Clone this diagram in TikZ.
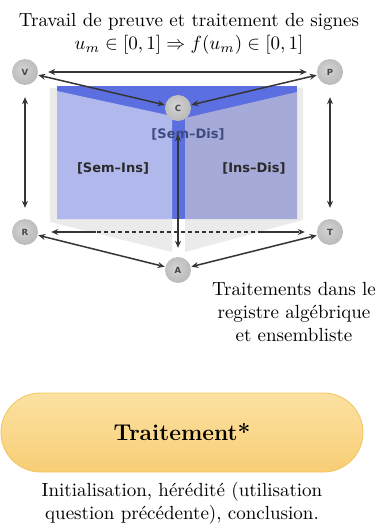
\documentclass[tikz,border=0pt]{standalone}
\usepackage{fontspec}
\newfontfamily\labfont{DejaVu Sans}
\usetikzlibrary{arrows.meta}
\definecolor{pagegray}{HTML}{EBEBEB}
\definecolor{darkblue}{HTML}{5B6FE0}
\definecolor{leftblue}{HTML}{B1B8EC}
\definecolor{rightblue}{HTML}{A5AAD9}
\definecolor{arrowgray}{HTML}{353535}
\definecolor{semdis}{HTML}{3E4A82}
\definecolor{labdark}{HTML}{2A2A2A}
\definecolor{yeltop}{HTML}{FCE1A2}
\definecolor{yelbot}{HTML}{F8CE76}
\definecolor{yelborder}{HTML}{F2C55C}
\pgfdeclareradialshading{myball}{\pgfpoint{-6bp}{6bp}}{color(0bp)=(black!17); color(25bp)=(black!26); color(50bp)=(black!38)}
\begin{document}
\begin{tikzpicture}[x=1pt,y=-1pt,
  ball/.style={circle, minimum size=26pt, inner sep=0pt, shading=myball,
    font=\labfont\bfseries\fontsize{8.5}{9}\selectfont, text=black!72},
  arr/.style={draw=arrowgray, line width=1.5pt,
    {Stealth[length=7pt,width=6pt]}-{Stealth[length=7pt,width=6pt]}},
  plain/.style={draw=arrowgray, line width=1.5pt},
  txt/.style={align=center, scale=1.9, inner sep=0pt},
  lab/.style={font=\labfont\bfseries\fontsize{13}{15}\selectfont, inner sep=0pt},
  pill/.style={rectangle, rounded corners=39.5pt, minimum width=362pt, minimum height=79pt,
    top color=yeltop, bottom color=yelbot, draw=yelborder, line width=0.8pt}
]
\useasboundingbox (0,0) rectangle (378,524);

% pages
\fill[pagegray] (50,88) -- (172,88) -- (172,252) -- (50,222) -- cycle;
\fill[pagegray] (185,88) -- (303,88) -- (303,220) -- (185,252) -- cycle;
\fill[darkblue] (57,86) rectangle (297,219);
\fill[leftblue] (57,91) -- (172,116) -- (172,219) -- (57,219) -- cycle;
\fill[rightblue] (185,118) -- (297,92) -- (297,219) -- (185,219) -- cycle;

% labels
\node[lab, text=semdis] (sd) at (188,134) {[Sem–Dis]};
\node[lab, text=labdark] (si) at (113,168) {[Sem–Ins]};
\node[lab, text=labdark] (id) at (254,168) {[Ins–Dis]};

% texts
\node[txt] (title) at (189,34) {Travail de preuve et traitement de signes\\ $u_m\in[0,1]\Rightarrow f(u_m)\in[0,1]$};
\node[txt] (right) at (294,312) {Traitements dans le\\ registre algébrique\\ et ensembliste};
\node[pill] (box) at (182,432.5) {};
\node[txt] (boxt) at (box.center) {\large\bfseries Traitement*};
\node[txt] (bottom) at (182,503) {Initialisation, hérédité (utilisation\\ question précédente), conclusion.};

% circles
\node[ball] (V) at (25,72) {V};
\node[ball] (P) at (330,72) {P};
\node[ball] (C) at (178,108) {C};
\node[ball] (R) at (25,232) {R};
\node[ball] (T) at (330,232) {T};
\node[ball] (A) at (178,270) {A};

% connectors
\draw[arr, shorten <=10pt, shorten >=10pt] (V) -- (P);
\draw[arr, shorten <=0.5pt, shorten >=0.5pt] (V) -- (C);
\draw[arr, shorten <=0.5pt, shorten >=0.5pt] (P) -- (C);
\draw[arr, shorten <=12pt, shorten >=11pt] (V) -- (R);
\draw[arr, shorten <=12pt, shorten >=11pt] (P) -- (T);
\draw[arr, shorten <=0.5pt, shorten >=0.5pt] (R) -- (A);
\draw[arr, shorten <=0.5pt, shorten >=0.5pt] (T) -- (A);
\draw[arr, shorten <=13pt, shorten >=9pt] (C) -- (A);
\draw[arr, dash pattern=on 4pt off 3pt, shorten <=13pt, shorten >=12pt] (R) -- (T);
\draw[plain] ([xshift=18pt]R.east) -- ([xshift=58pt]R.east);
\draw[plain] ([xshift=-18pt]T.west) -- ([xshift=-58pt]T.west);
\end{tikzpicture}
\end{document}
